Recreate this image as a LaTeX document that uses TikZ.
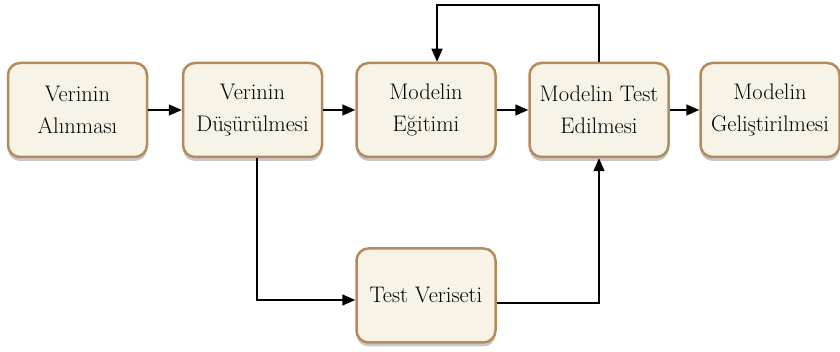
\documentclass[tikz,border=0pt]{standalone}
\usepackage{fontspec}
\setmainfont{Latin Modern Roman}
\usetikzlibrary{arrows.meta,shadows,calc}
\definecolor{boxfill}{HTML}{F7F3E7}
\definecolor{boxdraw}{HTML}{B58B5C}
\begin{document}
\begin{tikzpicture}[x=1pt,y=1pt,
  stepbox/.style={draw=boxdraw, fill=boxfill, line width=2.5pt, rounded corners=12pt,
    minimum width=139pt, minimum height=94pt, align=center, inner sep=2pt,
    text=black, font=\fontsize{22.5}{32}\selectfont,
    drop shadow={shadow xshift=0pt, shadow yshift=-4pt, fill=black, opacity=0.22}},
  conn/.style={line width=1.5pt, -{Triangle[length=13pt,width=11pt]}}]
\useasboundingbox (0,0) rectangle (840,352);
\node[stepbox] (b1) at (77.5,242) {Verinin\\Alınması};
\node[stepbox] (b2) at (252.5,242) {Verinin\\Düşürülmesi};
\node[stepbox] (b3) at (426,242) {Modelin\\Eğitimi};
\node[stepbox] (b4) at (599,242) {Modelin Test\\Edilmesi};
\node[stepbox] (b5) at (770,242) {Modelin\\Geliştirilmesi};
\node[stepbox] (t) at (426,56.5) {Test Veriseti};
\draw[conn] (b1) -- (b2);
\draw[conn] (b2) -- (b3);
\draw[conn] (b3) -- (b4);
\draw[conn] (b4) -- (b5);
\coordinate (c1) at (599,347);
\coordinate (c2) at (437,347);
\draw[conn] (b4.north) -- (c1) -- (c2) -- (c2 |- b3.north);
\coordinate (d1) at (257,52);
\draw[conn] ([xshift=4.5pt]b2.south) -- (d1) -- (d1 -| t.west);
\coordinate (e1) at (599,49);
\draw[conn] (t.east |- e1) -- (e1) -- (b4.south);
\end{tikzpicture}
\end{document}
